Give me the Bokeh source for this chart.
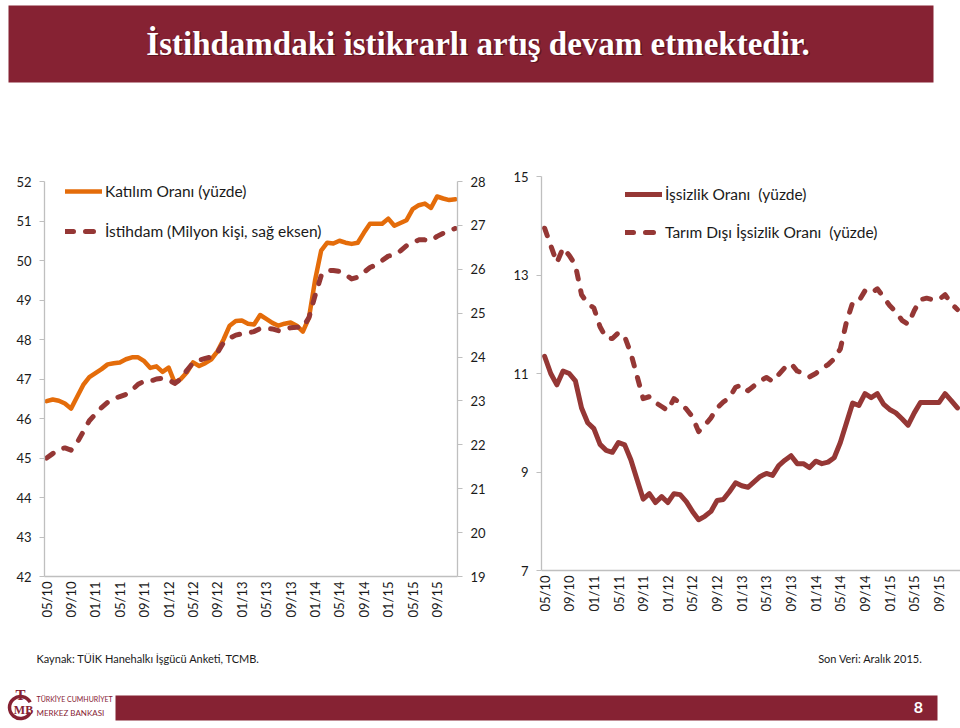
import math
from bokeh.plotting import figure
from bokeh.models import Range1d, LinearAxis, FixedTicker, Legend, LegendItem
from bokeh.layouts import column, row
from bokeh.embed import file_html
from bokeh.resources import INLINE
from bokeh.core.properties import value

# ---------------- data ----------------
title_text = "İstihdamdaki istikrarlı artış devam etmektedir."
source_text = "Kaynak: TÜİK Hanehalkı İşgücü Anketi, TCMB."
last_data_text = "Son Veri: Aralık 2015."
page_no = "8"

tick_labels = ["05/10", "09/10", "01/11", "05/11", "09/11", "01/12", "05/12", "09/12",
               "01/13", "05/13", "09/13", "01/14", "05/14", "09/14", "01/15", "05/15", "09/15"]

# monthly, 05/2010 - 12/2015
katilim = [46.44, 46.48, 46.45, 46.38, 46.25, 46.55, 46.85, 47.05, 47.15, 47.25,
           47.37, 47.40, 47.42, 47.50, 47.55, 47.55, 47.45, 47.28, 47.32, 47.18,
           47.29, 46.90, 47.00, 47.17, 47.42, 47.33, 47.40, 47.50, 47.70, 48.00,
           48.35, 48.47, 48.48, 48.40, 48.38, 48.62, 48.52, 48.42, 48.35, 48.40,
           48.43, 48.35, 48.20, 48.55, 49.50, 50.25, 50.45, 50.43, 50.50, 50.45,
           50.42, 50.45, 50.70, 50.93, 50.93, 50.93, 51.06, 50.88, 50.95, 51.02,
           51.30, 51.40, 51.44, 51.33, 51.62, 51.57, 51.53, 51.55]
istihdam = [21.70, 21.80, 21.90, 21.93, 21.88, 22.05, 22.30, 22.55, 22.70, 22.85,
            22.97, 23.05, 23.10, 23.15, 23.25, 23.38, 23.45, 23.45, 23.50, 23.52,
            23.48, 23.40, 23.50, 23.70, 23.87, 23.93, 23.97, 24.00, 24.10, 24.33,
            24.43, 24.50, 24.53, 24.55, 24.58, 24.65, 24.65, 24.64, 24.60, 24.62,
            24.67, 24.68, 24.67, 24.90, 25.40, 25.85, 25.98, 25.97, 25.95, 25.88,
            25.78, 25.82, 25.93, 26.04, 26.10, 26.20, 26.30, 26.33, 26.42, 26.54,
            26.60, 26.67, 26.67, 26.65, 26.75, 26.82, 26.88, 26.93]
issizlik = [11.35, 11.00, 10.77, 11.05, 11.00, 10.85, 10.30, 10.00, 9.88, 9.56,
            9.44, 9.40, 9.60, 9.55, 9.25, 8.85, 8.45, 8.56, 8.38, 8.50,
            8.38, 8.56, 8.54, 8.40, 8.20, 8.03, 8.10, 8.20, 8.42, 8.44,
            8.60, 8.78, 8.72, 8.69, 8.80, 8.91, 8.97, 8.93, 9.13, 9.24,
            9.33, 9.17, 9.17, 9.09, 9.22, 9.17, 9.20, 9.29, 9.60, 10.00,
            10.40, 10.35, 10.59, 10.51, 10.59, 10.38, 10.27, 10.20, 10.08, 9.95,
            10.20, 10.41, 10.41, 10.41, 10.41, 10.59, 10.45, 10.30]
tarim_disi = [13.95, 13.60, 13.25, 13.55, 13.40, 13.20, 12.60, 12.42, 12.33, 11.95,
              11.72, 11.71, 11.83, 11.75, 11.41, 10.95, 10.49, 10.53, 10.41, 10.33,
              10.25, 10.49, 10.40, 10.28, 10.12, 9.82, 9.95, 10.10, 10.30, 10.42,
              10.51, 10.72, 10.77, 10.65, 10.75, 10.85, 10.92, 10.84, 10.98, 11.12,
              11.20, 11.05, 11.00, 10.93, 11.00, 11.10, 11.18, 11.30, 11.50, 12.05,
              12.44, 12.47, 12.68, 12.63, 12.72, 12.55, 12.38, 12.25, 12.08, 12.00,
              12.28, 12.50, 12.53, 12.50, 12.50, 12.60, 12.42, 12.30]

left_ticks = [42, 43, 44, 45, 46, 47, 48, 49, 50, 51, 52]
right_ticks = [19, 20, 21, 22, 23, 24, 25, 26, 27, 28]
unemp_ticks = [7, 9, 11, 13, 15]

months = list(range(len(katilim)))
tick_pos = [4 * k for k in range(len(tick_labels))]
overrides = {p: lab for p, lab in zip(tick_pos, tick_labels)}

# ---------------- style ----------------
DARK_RED = "#862233"
ORANGE = "#E46C0A"
BROWN = "#953735"
AXIS_GRAY = "#BFBFBF"
FONT = "Lato"


def style_axis(ax, xaxis=False):
    ax.axis_line_color = AXIS_GRAY
    ax.axis_line_width = 1.3
    ax.major_tick_line_color = AXIS_GRAY
    ax.minor_tick_line_color = None
    ax.major_tick_in = 0
    ax.major_label_text_font = FONT
    ax.major_label_text_font_size = "13px"
    ax.major_label_text_color = "#1a1a1a"
    if xaxis:
        ax.major_tick_out = 0
        ax.major_label_standoff = 5
        ax.major_label_orientation = math.pi / 2
    else:
        ax.major_tick_out = 5
        ax.major_label_standoff = 8


def base_fig(w, h, **kw):
    p = figure(width=w, height=h, toolbar_location=None, output_backend="svg", **kw)
    p.xgrid.visible = False
    p.ygrid.visible = False
    p.outline_line_color = None
    p.background_fill_color = "white"
    p.border_fill_color = "white"
    p.frame_align = False
    return p


def style_legend(leg, spacing):
    leg.label_text_font = FONT
    leg.label_text_font_size = "15.5px"
    leg.label_text_color = "#1a1a1a"
    leg.glyph_width = 37
    leg.glyph_height = 20
    leg.label_height = 20
    leg.spacing = spacing
    leg.padding = 0
    leg.margin = 0
    leg.label_standoff = 3
    leg.border_line_color = None
    leg.background_fill_alpha = 0


# ---------------- header ----------------
header = base_fig(960, 168, x_range=Range1d(0, 960), y_range=Range1d(0, 168),
                  x_axis_type=None, y_axis_type=None, min_border=0)
header.quad(left=[8], right=[933], top=[163], bottom=[86], fill_color=DARK_RED, line_color=None)
header.text(x=[479], y=[123.5], text=[title_text], text_align="center", text_baseline="middle",
            text_font=value("Liberation Serif"), text_font_style="bold", text_font_size="33px",
            text_color="#3a0a12", text_alpha=0.55)
header.text(x=[477.5], y=[125], text=[title_text], text_align="center", text_baseline="middle",
            text_font=value("Liberation Serif"), text_font_style="bold", text_font_size="33px",
            text_color="white")

# ---------------- left chart ----------------
left = base_fig(488, 485, x_range=Range1d(-0.35, 67.35), y_range=Range1d(42, 52),
                min_border_left=44, min_border_right=31, min_border_top=13, min_border_bottom=77)
left.extra_y_ranges = {"right": Range1d(19, 28)}
left.add_layout(LinearAxis(y_range_name="right"), "right")
left.xaxis.ticker = FixedTicker(ticks=tick_pos, minor_ticks=[])
left.xaxis.major_label_overrides = overrides
left.yaxis[0].ticker = FixedTicker(ticks=left_ticks, minor_ticks=[])
left.yaxis[1].ticker = FixedTicker(ticks=right_ticks, minor_ticks=[])
for ax in left.xaxis:
    style_axis(ax, xaxis=True)
for ax in left.yaxis:
    style_axis(ax)

r1 = left.line(months, katilim, line_color=ORANGE, line_width=4.5, line_join="round", line_cap="round")
r2 = left.line(months, istihdam, y_range_name="right", line_color=BROWN, line_width=5,
               line_dash="8 12", line_cap="round", line_join="round")
leg1 = Legend(items=[LegendItem(label="Katılım Oranı (yüzde)", renderers=[r1]),
                     LegendItem(label="İstihdam (Milyon kişi, sağ eksen)", renderers=[r2])],
              location=(21, 335), orientation="vertical")
style_legend(leg1, 20)
left.add_layout(leg1)

# ---------------- right chart ----------------
right = base_fig(472, 485, x_range=Range1d(-0.5, 67.5), y_range=Range1d(7, 15),
                 min_border_left=53, min_border_right=0, min_border_top=8, min_border_bottom=83)
right.xaxis.ticker = FixedTicker(ticks=tick_pos, minor_ticks=[])
right.xaxis.major_label_overrides = overrides
right.yaxis.ticker = FixedTicker(ticks=unemp_ticks, minor_ticks=[])
for ax in right.xaxis:
    style_axis(ax, xaxis=True)
for ax in right.yaxis:
    style_axis(ax)

r3 = right.line(months, issizlik, line_color=BROWN, line_width=5, line_join="round", line_cap="round")
r4 = right.line(months, tarim_disi, line_color=BROWN, line_width=5, line_dash="8 12",
                line_cap="round", line_join="round")
leg2 = Legend(items=[LegendItem(label="İşsizlik Oranı  (yüzde)", renderers=[r3]),
                     LegendItem(label="Tarım Dışı İşsizlik Oranı  (yüzde)", renderers=[r4])],
              location=(84, 328), orientation="vertical")
style_legend(leg2, 18)
right.add_layout(leg2)

# ---------------- footer ----------------
footer = base_fig(960, 75, x_range=Range1d(0, 960), y_range=Range1d(0, 75),
                  x_axis_type=None, y_axis_type=None, min_border=0)
footer.text(x=[36], y=[70], text=[source_text], text_baseline="middle",
            text_font=value(FONT), text_font_size="11px", text_color="#1a1a1a")
footer.text(x=[922], y=[70], text=[last_data_text], text_baseline="middle", text_align="right",
            text_font=value(FONT), text_font_size="11px", text_color="#1a1a1a")
footer.quad(left=[115], right=[937], top=[33], bottom=[8], fill_color=DARK_RED, line_color=None)
footer.text(x=[918], y=[21], text=[page_no], text_baseline="middle", text_align="center",
            text_font=value(FONT), text_font_style="bold", text_font_size="16px", text_color="white")
# logo
footer.arc(x=[20], y=[21], radius=11, start_angle=0.5, end_angle=5.8, line_color=DARK_RED, line_width=3.5)
footer.text(x=[20], y=[34], text=["T"], text_baseline="middle", text_align="center",
            text_font=value("Liberation Serif"), text_font_style="bold", text_font_size="15px",
            text_color=DARK_RED)
footer.text(x=[23], y=[19], text=["MB"], text_baseline="middle", text_align="center",
            text_font=value("Liberation Serif"), text_font_style="bold", text_font_size="12px",
            text_color=DARK_RED)
footer.text(x=[36], y=[30], text=["TÜRKİYE CUMHURİYET"], text_baseline="middle",
            text_font=value(FONT), text_font_size="7px", text_color=DARK_RED)
footer.text(x=[36], y=[16], text=["MERKEZ BANKASI"], text_baseline="middle",
            text_font=value(FONT), text_font_size="8px", text_color=DARK_RED)

layout = column(header, row(left, right), footer)
open("out.html", "w").write(file_html(layout, INLINE))
